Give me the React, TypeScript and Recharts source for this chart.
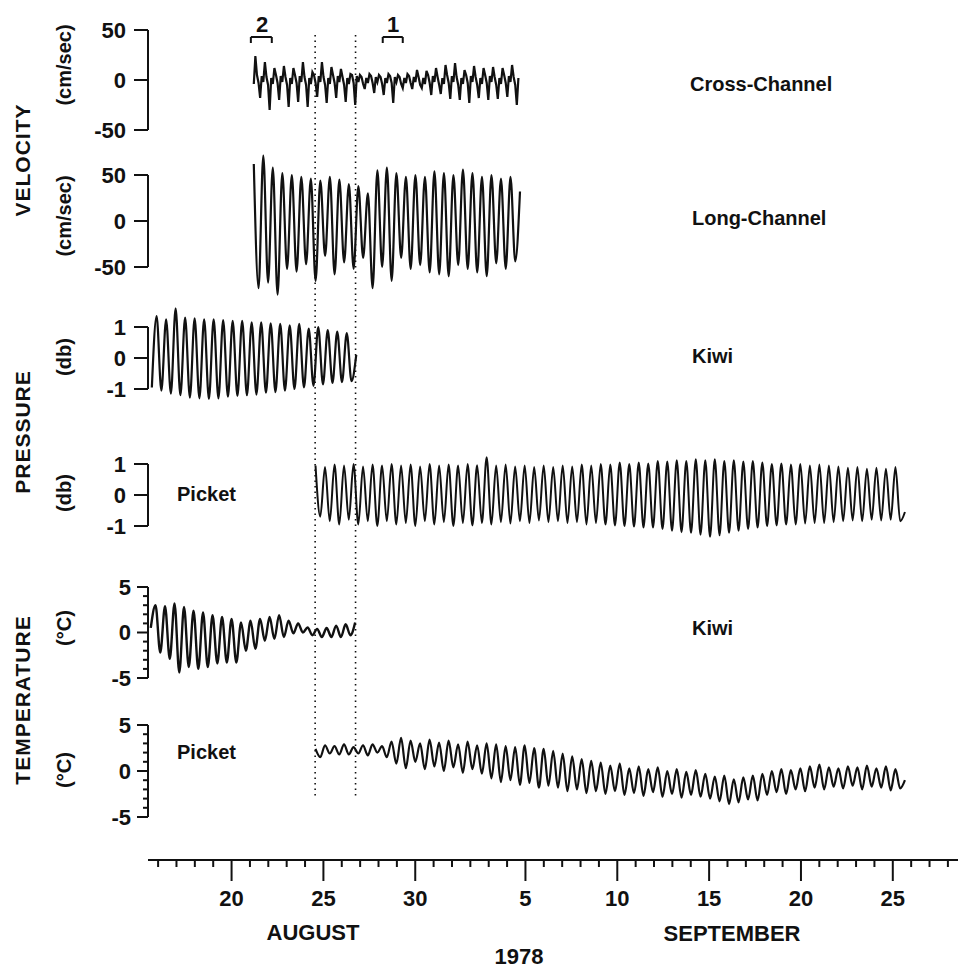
import React from "react";
import { LineChart, Line, XAxis, YAxis, ReferenceLine } from "recharts";

// time is a day number counted from 1 August 1978 (1 Sep = 32)
const HALF_TIDE = 0.2588; // half an M2 period, in days

const dayTicks = [
  16, 17, 18, 19, 20, 21, 22, 23, 24, 25, 26, 27, 28, 29, 30, 31, 32, 33, 34, 35, 36, 37,
  38, 39, 40, 41, 42, 43, 44, 45, 46, 47, 48, 49, 50, 51, 52, 53, 54, 55, 56, 57, 58, 59,
];
const labelDays = [20, 25, 30, 36, 41, 46, 51, 56];
const labelTexts = ["20", "25", "30", "5", "10", "15", "20", "25"];

// cross-channel velocity, cm/sec, six samples per tidal cycle
const crossStart = 21.21;
const crossValues = [
  -4, 24, 5, -3, -18, 4, -2, 18, 3, -5, -30, 2, -4, 12, 5, -3, -20, 4, -2, 14, 3, -5, -27, 2,
  -4, 12, 5, -3, -22, 4, -2, 18, 3, -5, -27, 2, -4, 8, 5, -3, -17, 4, -2, 18, 3, -5, -23, 2,
  -4, 13, 5, -3, -18, 4, -2, 11, 3, -5, -22, 2, -4, 6, 5, -3, -25, 4, -2, 5, 3, -4, -9, 2,
  -3, 6, 4, -3, -13, 3, -2, 5, 3, -4, -15, 2, -3, 6, 4, -3, -23, 3, -2, 5, 3, -4, -8, 2,
  -3, 6, 4, -3, -9, 3, -2, 10, 3, -5, -8, 2, -4, 9, 5, -3, -15, 4, -2, 12, 3, -5, -14, 2,
  -4, 15, 5, -3, -19, 4, -2, 17, 3, -5, -20, 2, -4, 10, 5, -3, -23, 4, -2, 14, 3, -5, -18, 2,
  -4, 12, 5, -3, -20, 4, -2, 13, 3, -5, -19, 2, -4, 12, 5, -3, -17, 4, -2, 15, 3, -5, -25, 2,
];

// long-channel velocity, cm/sec, one value per half tide
const longStart = 21.21;
const longValues = [
  62, -73, 71, -67, 58, -80, 52, -52, 50, -55, 48, -47, 46, -65, 44, -38, 48, -58, 45, -45,
  40, -52, 38, -40, 30, -73, 55, -50, 58, -65, 52, -40, 48, -52, 50, -48, 48, -56, 54, -58,
  52, -60, 50, -48, 56, -52, 52, -56, 48, -60, 50, -46, 46, -52, 48, -44, 32,
];

// pressure, db
const kiwiPressStart = 15.66;
const kiwiPressValues = [
  -0.95, 1.35, -1.05, 1.25, -1.15, 1.6, -1.2, 1.3, -1.28, 1.28, -1.3, 1.25, -1.32, 1.25, -1.3,
  1.22, -1.25, 1.2, -1.22, 1.2, -1.2, 1.15, -1.18, 1.15, -1.12, 1.12, -1.1, 1.1, -1.05, 1.05,
  -1.0, 1.1, -0.95, 0.95, -0.9, 1.0, -0.85, 0.9, -0.8, 0.85, -0.78, 0.8, -0.75, 0.1,
];
const picketPressStart = 24.57;
const picketPressValues = [
  0.95, -0.7, 0.9, -0.85, 0.98, -0.95, 0.95, -0.8, 1.0, -0.95, 0.92, -0.85, 0.98, -1.0, 0.95,
  -0.85, 1.0, -0.95, 0.95, -0.9, 0.98, -1.0, 0.92, -0.85, 1.0, -0.95, 0.95, -0.88, 0.98, -1.0,
  0.95, -0.9, 1.0, -0.98, 0.96, -0.9,
  1.22, -0.95, 0.95, -0.88, 0.98, -0.92, 0.92, -0.85, 0.95, -0.9, 0.9, -0.82, 0.95, -0.88, 0.9,
  -0.85, 0.95, -0.9, 0.92, -0.88, 0.98, -0.95, 0.95, -0.9,
  1.0, -0.95, 0.98, -0.98, 1.05, -1.0, 1.0, -1.02, 1.05, -1.05, 1.02, -1.05,
  1.1, -1.1, 1.08, -1.15, 1.12, -1.2, 1.1, -1.22, 1.15, -1.28, 1.12, -1.35, 1.15, -1.3, 1.1,
  -1.22, 1.12, -1.15, 1.08, -1.1, 1.1, -1.05,
  1.05, -1.0, 1.0, -0.98, 1.02, -0.95, 0.98, -0.95, 1.0, -0.92, 0.95, -0.9, 0.98, -0.9, 0.95, -0.88,
  0.92, -0.85, 0.88, -0.82, 0.9, -0.85, 0.85, -0.8, 0.88, -0.82, 0.85, -0.8, 0.9, -0.85, -0.55,
];

// temperature, °C
const kiwiTempStart = 15.6;
const kiwiTempValues = [
  0.5, 3.0, -2.2, 2.9, -2.9, 3.2, -4.4, 2.8, -3.8, 2.4, -4.0, 2.2, -3.8, 1.9, -3.4, 1.7, -3.3,
  1.5, -3.3, 1.1, -2.0, 1.3, -1.8, 1.5, -0.9, 1.7, -0.7, 1.9, -0.5, 1.3, -0.1, 1.0, 0, 0.55,
  -0.3, 0.4, -0.5, 0.5, -0.5, 0.75, -0.5, 0.9, -0.3, 1.1,
];
const picketTempStart = 24.57;
const picketTempValues = [
  2.4, 1.5, 2.8, 1.9, 2.7, 1.8, 2.9, 1.8, 2.6, 1.9, 2.8, 1.7, 2.9, 2.0, 2.7, 1.5,
  3.2, 0.8, 3.6, 0.3, 3.3, 1.0, 3.0, 0.2, 3.4, 0.5, 3.1, 0.0, 3.3, 0.4, 2.9, -0.2, 3.2, 0.2,
  2.8, -0.3, 3.0,
  -0.8, 2.9, -1.2, 2.7, -1.0, 2.6, -1.5, 2.8, -1.3, 2.5, -1.8, 2.4, -1.6,
  2.2, -1.8, 1.9, -2.2, 1.6, -2.0, 1.3, -2.4, 1.1, -2.2,
  0.9, -2.5, 0.6, -2.2, 0.8, -2.6, 0.3, -2.4, 0.5, -2.7, 0.2, -2.3, 0.4, -2.8, 0.0, -2.5, 0.2,
  -2.9, -0.1, -2.6, 0.1, -2.8,
  -0.3, -3.0, -0.6, -3.3, -0.5, -3.6, -0.9, -3.4, -0.7, -3.1, -0.5, -3.2, -0.3,
  -2.6, 0.0, -2.3, 0.2, -2.5, 0.1, -2.0, 0.3, -2.2, 0.5, -1.8, 0.7, -2.0, 0.4, -1.7, 0.3, -1.9,
  0.5, -1.6, 0.4, -2.0, 0.6, -1.7, 0.3, -1.8, 0.5, -2.1, 0.2, -1.9, -1.0,
];

// dotted marker days and the two bracketed intervals
const markerDays = [24.55, 26.75];
const bracket2 = [21.05, 22.19];
const bracket1 = [28.23, 29.32];

const W = 961;
const H = 967;
const PLOT_TOP = 0;
const PLOT_BOTTOM = 860;
const PLOT_H = PLOT_BOTTOM - PLOT_TOP;
const AXIS_X = 148;
const X_MIN = 15.45;
const X_MAX = 59.55;
const FONT = '"Liberation Sans", Arial, sans-serif';
const INK = "#111";

// domain that puts value a at pixel row pa and value b at row pb
function band(a: number, pa: number, b: number, pb: number): [number, number] {
  const perPx = (a - b) / (pb - pa);
  const top = a + (pa - PLOT_TOP) * perPx;
  return [top - PLOT_H * perPx, top];
}

const toSeries = (start: number, step: number, values: number[]) =>
  values.map((v, i) => ({ t: start + i * step, v }));

const axes = {
  cross: band(50, 30, -50, 130),
  long: band(50, 175, -50, 267),
  kiwiP: band(1, 327, -1, 389),
  picketP: band(1, 464, -1, 526),
  kiwiT: band(5, 587, -5, 678),
  picketT: band(5, 725, -5, 817),
};

function XTick(props: any) {
  const { x, y, payload } = props;
  const idx = labelDays.indexOf(payload.value);
  const major = idx >= 0;
  return (
    <g>
      <line x1={x} x2={x} y1={y} y2={y + (major ? 21 : 7)} stroke={INK} strokeWidth={2} />
      {major && (
        <text x={x} y={y + 38} textAnchor="middle" dominantBaseline="central" fontSize={22} fontWeight={700} fontFamily={FONT} fill={INK}>
          {labelTexts[idx]}
        </text>
      )}
    </g>
  );
}

// every left axis is drawn against the same vertical line at AXIS_X
function makeYTick(labels: Record<string, string>, len: number, minorLen: number, gap: number) {
  return (props: any) => {
    const { y, payload } = props;
    const label = labels[String(payload.value)];
    const l = label !== undefined ? len : minorLen;
    return (
      <g>
        <line x1={AXIS_X - l} x2={AXIS_X} y1={y} y2={y} stroke={INK} strokeWidth={2} />
        {label !== undefined && (
          <text x={AXIS_X - len - gap} y={y} textAnchor="end" dominantBaseline="central" fontSize={22} fontWeight={700} fontFamily={FONT} fill={INK}>
            {label}
          </text>
        )}
      </g>
    );
  };
}

const velTick = makeYTick({ "50": "50", "0": "0", "-50": "-50" }, 14, 14, 8);
const pressTick = makeYTick({ "1": "1", "0": "0", "-1": "-1" }, 14, 14, 8);
const tempTick = makeYTick({ "5": "5", "0": "0", "-5": "-5" }, 11, 5, 6);

const velTicks = [-50, 0, 50];
const pressTicks = [-1, 0, 1];
const tempTicks = [-5, -4, -3, -2, -1, 0, 1, 2, 3, 4, 5];

const panels = [
  { id: "cross", ticks: velTicks, tick: velTick, lo: -50, hi: 50 },
  { id: "long", ticks: velTicks, tick: velTick, lo: -50, hi: 50 },
  { id: "kiwiP", ticks: pressTicks, tick: pressTick, lo: -1, hi: 1 },
  { id: "picketP", ticks: pressTicks, tick: pressTick, lo: -1, hi: 1 },
  { id: "kiwiT", ticks: tempTicks, tick: tempTick, lo: -5, hi: 5 },
  { id: "picketT", ticks: tempTicks, tick: tempTick, lo: -5, hi: 5 },
] as const;

const series = [
  { id: "cross", data: toSeries(crossStart, HALF_TIDE / 3, crossValues), type: "linear", w: 2.2 },
  { id: "long", data: toSeries(longStart, HALF_TIDE, longValues), type: "monotone", w: 2.2 },
  { id: "kiwiP", data: toSeries(kiwiPressStart, HALF_TIDE, kiwiPressValues), type: "monotone", w: 2.2 },
  { id: "picketP", data: toSeries(picketPressStart, HALF_TIDE, picketPressValues), type: "monotone", w: 2.0 },
  { id: "kiwiT", data: toSeries(kiwiTempStart, HALF_TIDE, kiwiTempValues), type: "monotone", w: 2.4 },
  { id: "picketT", data: toSeries(picketTempStart, HALF_TIDE, picketTempValues), type: "monotone", w: 2.2 },
] as const;

const textStyle = { fontFamily: FONT, fontWeight: 700, fill: INK } as const;

function Labels() {
  const vert = (txt: string, x: number, y: number, size: number, spacing = 0) => (
    <text
      key={txt + y}
      x={x}
      y={y}
      transform={`rotate(-90 ${x} ${y})`}
      textAnchor="middle"
      dominantBaseline="central"
      fontSize={size}
      letterSpacing={spacing}
      {...textStyle}
    >
      {txt}
    </text>
  );
  const flat = (txt: string, x: number, y: number, size: number, anchor = "start") => (
    <text key={txt + y} x={x} y={y} textAnchor={anchor as any} dominantBaseline="central" fontSize={size} {...textStyle}>
      {txt}
    </text>
  );
  return (
    <svg width={W} height={H} style={{ position: "absolute", left: 0, top: 0, pointerEvents: "none" }}>
      {vert("VELOCITY", 22, 160, 21, 1)}
      {vert("PRESSURE", 22, 432, 21, 1)}
      {vert("TEMPERATURE", 22, 700, 21, 1)}
      {vert("(cm/sec)", 64, 65, 20)}
      {vert("(cm/sec)", 64, 216, 20)}
      {vert("(db)", 64, 357, 20)}
      {vert("(db)", 64, 493, 20)}
      {vert("(°C)", 64, 628, 20)}
      {vert("(°C)", 64, 770, 20)}
      {flat("Cross-Channel", 690, 84, 20)}
      {flat("Long-Channel", 692, 218, 20)}
      {flat("Kiwi", 692, 356, 20)}
      {flat("Picket", 177, 494, 20)}
      {flat("Kiwi", 692, 628, 20)}
      {flat("Picket", 177, 752, 20)}
      {flat("2", 262, 24, 22, "middle")}
      {flat("1", 393, 24, 22, "middle")}
      {flat("AUGUST", 313, 932, 22, "middle")}
      {flat("SEPTEMBER", 732, 933, 22, "middle")}
      {flat("1978", 519, 956, 22, "middle")}
    </svg>
  );
}

export default function App() {
  const crossTop = 80 - 35; // dotted markers run from row 35 to row 797 on the cross-channel scale
  const crossBottom = 80 - 797;
  return (
    <div style={{ position: "absolute", left: 0, top: 0, width: W, height: H, background: "#fff" }}>
      <LineChart width={W} height={H} margin={{ top: PLOT_TOP, right: W - 958, bottom: 47, left: AXIS_X - panels.length }}>
        <XAxis
          type="number"
          dataKey="t"
          domain={[X_MIN, X_MAX]}
          allowDataOverflow
          ticks={dayTicks}
          interval={0}
          height={60}
          tickSize={0}
          tickMargin={0}
          tickLine={false}
          axisLine={{ stroke: INK, strokeWidth: 2 }}
          tick={<XTick />}
        />
        {panels.map((p) => (
          <YAxis
            key={p.id}
            yAxisId={p.id}
            type="number"
            domain={axes[p.id]}
            allowDataOverflow
            ticks={p.ticks as any}
            interval={0}
            width={1}
            tickSize={0}
            tickMargin={0}
            tickLine={false}
            axisLine={false}
            tick={p.tick}
          />
        ))}
        {panels.map((p) => (
          <ReferenceLine
            key={"ax" + p.id}
            yAxisId={p.id}
            segment={[{ x: X_MIN, y: p.lo }, { x: X_MIN, y: p.hi }]}
            stroke={INK}
            strokeWidth={2}
            ifOverflow="visible"
          />
        ))}
        {markerDays.map((d) => (
          <ReferenceLine
            key={"m" + d}
            yAxisId="cross"
            segment={[{ x: d, y: crossTop }, { x: d, y: crossBottom }]}
            stroke={INK}
            strokeWidth={1.6}
            strokeDasharray="1.5 4"
            ifOverflow="visible"
          />
        ))}
        {[bracket2, bracket1].map((b, i) => (
          <React.Fragment key={"b" + i}>
            <ReferenceLine yAxisId="cross" segment={[{ x: b[0], y: 43 }, { x: b[1], y: 43 }]} stroke={INK} strokeWidth={2} ifOverflow="visible" />
            <ReferenceLine yAxisId="cross" segment={[{ x: b[0], y: 43 }, { x: b[0], y: 37 }]} stroke={INK} strokeWidth={2} ifOverflow="visible" />
            <ReferenceLine yAxisId="cross" segment={[{ x: b[1], y: 43 }, { x: b[1], y: 37 }]} stroke={INK} strokeWidth={2} ifOverflow="visible" />
          </React.Fragment>
        ))}
        {series.map((s) => (
          <Line
            key={s.id}
            yAxisId={s.id}
            data={s.data as any}
            dataKey="v"
            type={s.type as any}
            stroke={INK}
            strokeWidth={s.w}
            dot={false}
            activeDot={false}
            isAnimationActive={false}
          />
        ))}
      </LineChart>
      <Labels />
    </div>
  );
}
